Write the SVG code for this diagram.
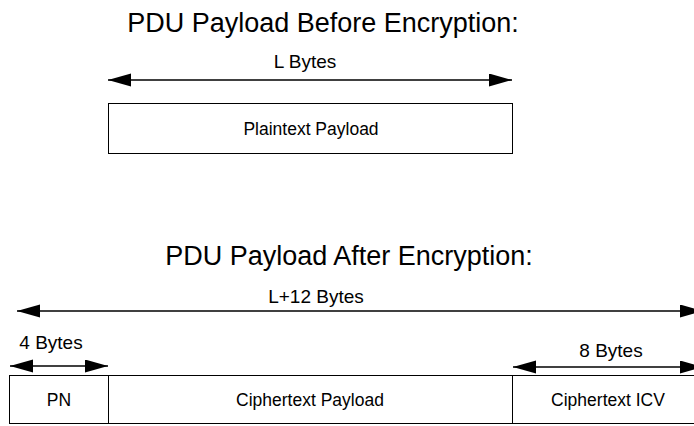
<svg xmlns="http://www.w3.org/2000/svg" width="694" height="426" viewBox="0 0 694 426">
<style>
text{font-family:"Liberation Sans",Arial,sans-serif;fill:#000;text-anchor:middle}
.title{font-size:27px}
.lbl{font-size:19px}
.box{font-size:17.5px}
.cell{fill:#fff;stroke:#000;stroke-width:1}
.dim{stroke:#000;stroke-width:1.4;fill:none;marker-start:url(#ah);marker-end:url(#ah)}
</style>
<defs>
<marker id="ah" markerUnits="userSpaceOnUse" markerWidth="23" markerHeight="14" refX="23" refY="6.5" orient="auto-start-reverse">
<path d="M0,0 L23,6.5 L0,13 z" fill="#000"/>
</marker>
</defs>
<rect width="694" height="426" fill="#fff"/>
<text class="title" x="323" y="32">PDU Payload Before Encryption:</text>
<text class="title" x="349" y="265">PDU Payload After Encryption:</text>
<g id="connectors">
<line class="dim" x1="108" y1="80" x2="512" y2="80"/>
<line class="dim" x1="17" y1="311" x2="703" y2="311"/>
<line class="dim" x1="10" y1="366" x2="108" y2="366"/>
<line class="dim" x1="513" y1="367" x2="703" y2="367"/>
</g>
<text class="lbl" x="305" y="68">L Bytes</text>
<text class="lbl" x="316" y="303">L+12 Bytes</text>
<text class="lbl" x="51" y="349">4 Bytes</text>
<text class="lbl" x="611" y="357">8 Bytes</text>
<g id="plaintext">
<rect class="cell" x="108.5" y="103.5" width="404" height="50"/>
<text class="box" x="311" y="135">Plaintext Payload</text>
</g>
<g id="pn">
<rect class="cell" x="9.5" y="375.5" width="99" height="48"/>
<text class="box" x="59" y="406">PN</text>
</g>
<g id="ciphertext-payload">
<rect class="cell" x="108.5" y="375.5" width="404" height="48"/>
<text class="box" x="310" y="406">Ciphertext Payload</text>
</g>
<g id="ciphertext-icv">
<rect class="cell" x="512.5" y="375.5" width="192" height="48"/>
<text class="box" x="608" y="406">Ciphertext ICV</text>
</g>
</svg>
